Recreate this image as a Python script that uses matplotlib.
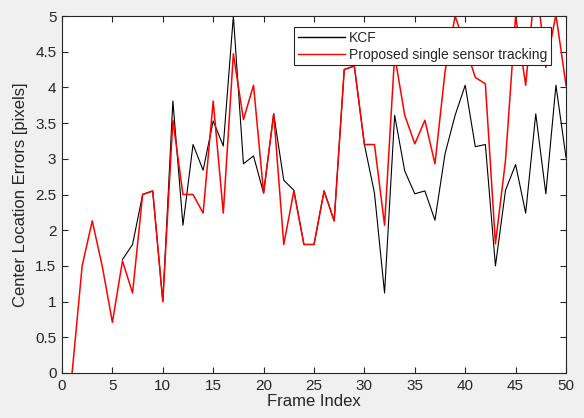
import numpy as np
import matplotlib
matplotlib.use("Agg")
import matplotlib.pyplot as plt

plt.rcParams['font.family'] = ['Liberation Sans', 'DejaVu Sans']

nan = float('nan')
frames = list(range(1, 51))
kcf = [nan, nan, nan, nan, nan, 1.59, 1.8, 2.5, 2.55, 1.0,
       3.81, 2.07, 3.2, 2.84, 3.53, 3.18, 5.0, 2.93, 3.04, 2.52,
       3.63, 2.7, 2.56, 1.8, 1.8, 2.55, 2.13, 4.25, 4.3, 3.2,
       2.52, 1.12, 3.61, 2.83, 2.51, 2.55, 2.14, 3.07, 3.61, 4.03,
       3.17, 3.2, 1.5, 2.56, 2.92, 2.24, 3.63, 2.51, 4.03, 3.02]
proposed = [0, 1.5, 2.13, 1.49, 0.71, 1.57, 1.12, 2.5, 2.55, 1.0,
            3.54, 2.5, 2.5, 2.24, 3.81, 2.24, 4.47, 3.55, 4.03, 2.52,
            3.63, 1.8, 2.55, 1.8, 1.8, 2.55, 2.13, 4.25, 4.3, 3.2,
            3.2, 2.07, 4.45, 3.61, 3.21, 3.54, 2.93, 4.22, 5.0, 4.58,
            4.14, 4.05, 1.81, 2.98, 5.0, 4.03, 5.55, 4.28, 5.02, 4.03]
labels = ['KCF', 'Proposed single sensor tracking']

fig = plt.figure(figsize=(5.84, 4.18), dpi=100, facecolor='#f0f0f0')
ax = fig.add_axes([62/584, 1-373/418, 504/584, 357/418])
ax.set_facecolor('white')

ax.plot(frames, kcf, color='black', lw=0.8, label=labels[0])
ax.plot(frames, proposed, color='red', lw=1.1, label=labels[1])

ax.set_xlim(0, 50)
ax.set_ylim(0, 5)
ax.set_xticks(np.arange(0, 51, 5))
ax.set_yticks(np.arange(0, 5.01, 0.5))
ax.set_yticklabels(['0', '0.5', '1', '1.5', '2', '2.5', '3', '3.5', '4', '4.5', '5'])

tc = '#262626'
for s in ax.spines.values():
    s.set_color(tc)
    s.set_linewidth(0.8)
ax.tick_params(direction='in', top=True, right=True, length=4, width=0.8,
               colors=tc, labelsize=11, labelcolor=tc, pad=4)

ax.set_xlabel('Frame Index', fontsize=12, color=tc, labelpad=1)
ax.set_ylabel('Center Location Errors [pixels]', fontsize=12, color=tc, labelpad=5)

leg = ax.legend(loc='upper right', bbox_to_anchor=(0.970, 0.969), borderaxespad=0,
                fancybox=False, framealpha=1, edgecolor=tc, fontsize=10,
                handlelength=3.4, handletextpad=0.3, labelspacing=0.25,
                borderpad=0.25)
leg.get_frame().set_linewidth(0.8)
for t in leg.get_texts():
    t.set_color(tc)
for h in leg.get_lines():
    h.set_linewidth(1.0)

fig.savefig('out.png', dpi=100, facecolor=fig.get_facecolor())
